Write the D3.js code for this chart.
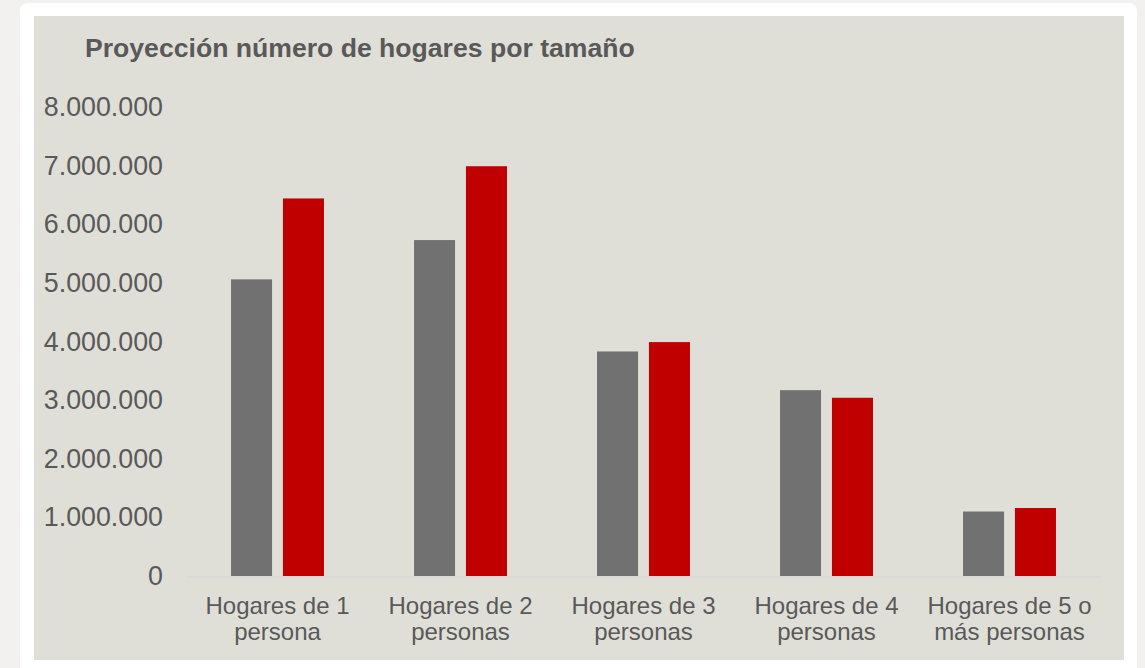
<!DOCTYPE html>
<html lang="es">
<head>
<meta charset="utf-8">
<title>Proyección número de hogares por tamaño</title>
<script src="https://cdn.jsdelivr.net/npm/d3@7"></script>
<style>
  body { margin: 0; background: #f2f1ef; font-family: "Liberation Sans", Arial, sans-serif; }
</style>
</head>
<body>
<div id="chart"></div>
<script>
// Data
const categories = [
  "Hogares de 1 persona",
  "Hogares de 2 personas",
  "Hogares de 3 personas",
  "Hogares de 4 personas",
  "Hogares de 5 o más personas"
];
const seriesNames = ["Actual", "Proyección"];
const currentHouseholds = [5060000, 5730000, 3830000, 3170000, 1100000];
const projectedHouseholds = [6440000, 6990000, 3990000, 3040000, 1160000];
const yTickValues = [0, 1000000, 2000000, 3000000, 4000000, 5000000, 6000000, 7000000, 8000000];
const seriesColors = ["#717171", "#c00000"];

class GroupedBarChart {
  constructor(_config) {
    this.config = _config;
    this.width = 1145;
    this.height = 668;
    this.plot = { left: 186, right: 1101, top: 107, bottom: 576 };

    this.svg = d3
      .select(this.config.parentElement)
      .append("svg")
      .attr("width", this.width)
      .attr("height", this.height)
      .style("display", "block");

    // es-ES style thousands separator
    this.format = d3.formatLocale({
      decimal: ",",
      thousands: ".",
      grouping: [3],
      currency: ["", " €"]
    }).format(",");
  }

  updateVis() {
    const vis = this;
    const p = vis.plot;

    // Page, card and panel backgrounds
    vis.svg.append("rect")
      .attr("width", vis.width).attr("height", vis.height)
      .attr("fill", "#f2f1ef");
    vis.svg.append("rect")
      .attr("x", 20).attr("y", 3)
      .attr("width", 1117).attr("height", 680)
      .attr("rx", 8)
      .attr("fill", "#ffffff");
    vis.svg.append("rect")
      .attr("x", 34).attr("y", 16)
      .attr("width", 1090).attr("height", 644)
      .attr("fill", "#e0dfd7");

    // Title
    vis.svg.append("text")
      .attr("x", 85)
      .attr("y", 57)
      .attr("fill", "#595959")
      .style("font-size", "26.6px")
      .style("font-weight", "bold")
      .text("Proyección número de hogares por tamaño");

    // Scales
    const x0 = d3.scaleBand()
      .domain(categories)
      .range([p.left, p.right])
      .paddingInner(0.492)
      .paddingOuter(0.246);

    const x1 = d3.scaleBand()
      .domain(seriesNames)
      .range([0, x0.bandwidth()])
      .paddingInner(0.21)
      .paddingOuter(0);

    const y = d3.scaleLinear()
      .domain([0, 8000000])
      .range([p.bottom, p.top]);

    // Y axis (labels only)
    const yAxis = vis.svg.append("g")
      .attr("transform", `translate(${p.left},0)`)
      .call(d3.axisLeft(y).tickValues(yTickValues).tickFormat(vis.format).tickSize(0).tickPadding(23));
    yAxis.select(".domain").remove();
    yAxis.selectAll("text")
      .attr("fill", "#595959")
      .style("font-family", "'Liberation Sans', Arial, sans-serif")
      .style("font-size", "26.8px");

    // Bars
    const rows = categories.map((c, i) => ({
      category: c,
      values: [currentHouseholds[i], projectedHouseholds[i]]
    }));

    const groups = vis.svg.selectAll(".group")
      .data(rows)
      .enter()
      .append("g")
      .attr("class", "group")
      .attr("transform", (d) => `translate(${x0(d.category)},0)`);

    groups.selectAll("rect")
      .data((d) => d.values.map((v, j) => ({ series: seriesNames[j], value: v, idx: j })))
      .enter()
      .append("rect")
      .attr("x", (d) => x1(d.series))
      .attr("y", (d) => y(d.value))
      .attr("width", x1.bandwidth())
      .attr("height", (d) => y(0) - y(d.value))
      .attr("fill", (d) => seriesColors[d.idx]);

    // X axis
    const xAxis = vis.svg.append("g")
      .attr("transform", `translate(0,${p.bottom + 0.5})`)
      .call(d3.axisBottom(x0).tickSize(0).tickSizeOuter(0).tickPadding(20));
    xAxis.select(".domain")
      .attr("stroke", "#d5d5de")
      .attr("stroke-width", 1);
    xAxis.selectAll("text")
      .attr("fill", "#595959")
      .style("font-family", "'Liberation Sans', Arial, sans-serif")
      .style("font-size", "24px")
      .call(wrap, 178);
  }
}

// wrap tick labels onto several lines
function wrap(textSel, maxWidth) {
  textSel.each(function () {
    const text = d3.select(this);
    const words = text.text().split(/\s+/);
    const yPos = text.attr("y");
    const dy = parseFloat(text.attr("dy")) || 0;
    text.text(null);
    let line = [];
    let lineNo = 0;
    let tspan = text.append("tspan").attr("x", 0).attr("y", yPos).attr("dy", dy + "em");
    words.forEach((w) => {
      line.push(w);
      tspan.text(line.join(" "));
      if (tspan.node().getComputedTextLength() > maxWidth && line.length > 1) {
        line.pop();
        tspan.text(line.join(" "));
        line = [w];
        lineNo++;
        tspan = text.append("tspan")
          .attr("x", 0)
          .attr("y", yPos)
          .attr("dy", lineNo * 1.12 + dy + "em")
          .text(w);
      }
    });
  });
}

document.addEventListener("DOMContentLoaded", function () {
  const chart = new GroupedBarChart({ parentElement: "#chart" });
  chart.updateVis();
});
</script>
</body>
</html>
